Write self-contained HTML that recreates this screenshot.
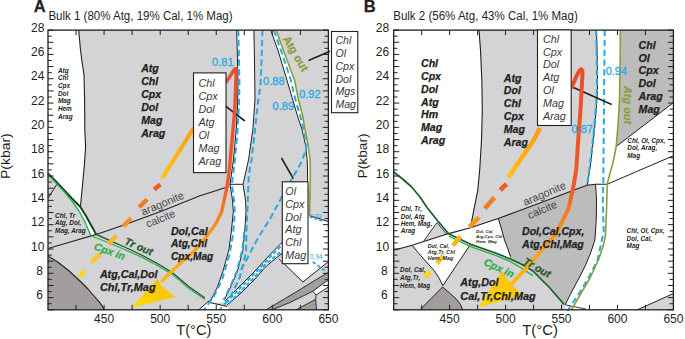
<!DOCTYPE html>
<html><head><meta charset="utf-8"><style>
html,body{margin:0;padding:0;background:#fff;overflow:hidden;width:685px;height:339px;}
svg{display:block;font-family:"Liberation Sans",sans-serif;}
</style></head><body>
<svg width="685" height="339" viewBox="0 0 685 339">
<polygon points="48.0,30.1 328.4,30.1 328.4,309.8 48.0,309.8" fill="#d4d3d5" stroke="none" stroke-width="0" stroke-linejoin="round"/>
<polygon points="48.0,30.1 78.7,30.1 80.5,50.0 82.0,62.0 84.0,74.6 84.6,100.0 84.8,130.0 85.6,146.5 84.4,165.0 82.5,185.0 80.4,207.0 72.0,198.5 64.0,190.0 56.0,181.5 48.0,173.4" fill="#ffffff" stroke="none" stroke-width="0" stroke-linejoin="round"/>
<polygon points="48.0,173.4 56.0,181.5 64.0,190.0 72.0,198.5 80.4,207.0 86.0,216.0 91.0,225.0 96.2,234.4 90.9,235.6 88.0,229.0 84.5,221.0 79.0,211.0 72.0,201.0 64.0,191.5 56.0,183.0 48.0,174.6" fill="#ffffff" stroke="none" stroke-width="0" stroke-linejoin="round"/>
<polygon points="48.0,255.9 58.0,262.3 68.6,270.5 80.0,281.0 88.0,289.0 94.5,296.5 100.0,302.8 104.5,309.8 48.0,309.8" fill="#a19e9d" stroke="none" stroke-width="0" stroke-linejoin="round"/>
<polygon points="236.7,30.1 237.5,60.0 238.0,85.0 237.6,105.0 236.2,130.0 233.5,160.0 230.0,184.3 243.0,184.3 248.5,160.0 252.8,130.0 255.0,100.0 254.5,60.0 253.9,30.1" fill="#ffffff" stroke="none" stroke-width="0" stroke-linejoin="round"/>
<polygon points="230.0,184.3 232.5,200.0 233.3,212.0 231.5,230.0 229.0,249.4 223.0,271.1 217.0,288.0 210.9,300.2 207.3,302.2 210.0,302.6 226.6,302.6 224.2,300.2 230.2,288.0 237.5,271.1 243.0,249.4 244.8,230.0 246.0,212.0 245.5,200.0 243.0,184.3" fill="#ffffff" stroke="none" stroke-width="0" stroke-linejoin="round"/>
<polygon points="198.8,309.8 207.3,302.2 210.0,302.6 227.0,306.4 229.0,309.8" fill="#ffffff" stroke="none" stroke-width="0" stroke-linejoin="round"/>
<polygon points="225.1,301.2 240.0,286.0 255.0,271.0 265.0,260.0 273.0,251.5 282.4,242.1 282.4,253.0 273.0,260.5 265.0,267.4 255.0,279.0 240.0,294.0 227.0,304.9" fill="#ffffff" stroke="none" stroke-width="0" stroke-linejoin="round"/>
<polygon points="270.8,30.1 278.5,52.0 286.9,80.0 292.8,100.0 297.8,117.0 302.2,130.0 305.5,145.0 307.2,159.5 307.5,170.0 307.5,181.7 310.1,190.0 310.3,175.0 310.1,159.5 308.0,145.0 305.1,130.0 302.5,115.0 298.5,100.0 294.5,80.0 284.0,52.0 276.1,30.1" fill="#ffffff" stroke="none" stroke-width="0" stroke-linejoin="round"/>
<polygon points="308.0,215.7 328.4,221.6 328.4,262.5 325.8,263.7 302.9,282.0 279.0,258.8 282.4,258.8 282.4,250.0 308.0,250.0" fill="#ffffff" stroke="none" stroke-width="0" stroke-linejoin="round"/>
<polygon points="266.0,309.8 296.0,292.0 318.0,278.5 328.4,272.5 328.4,279.5 313.0,291.1 290.0,302.5 272.0,309.8" fill="#a19e9d" stroke="none" stroke-width="0" stroke-linejoin="round"/>
<polygon points="313.0,291.1 328.4,281.5 328.4,287.0 316.0,295.0" fill="#ffffff" stroke="none" stroke-width="0" stroke-linejoin="round"/>
<polygon points="296.0,309.8 315.7,299.4 316.5,309.8" fill="#a19e9d" stroke="none" stroke-width="0" stroke-linejoin="round"/>
<polyline points="78.7,30.1 80.5,50.0 82.0,62.0 84.0,74.6 84.6,100.0 84.8,130.0 85.6,146.5 84.4,165.0 82.5,185.0 80.4,207.0" fill="none" stroke="#231f20" stroke-width="1.1" stroke-linejoin="round" stroke-linecap="butt"/>
<polyline points="236.7,30.1 237.5,60.0 238.0,85.0 237.6,105.0 236.2,130.0 233.5,160.0 230.0,184.3" fill="none" stroke="#231f20" stroke-width="1.0" stroke-linejoin="round" stroke-linecap="butt"/>
<polyline points="253.9,30.1 254.5,60.0 255.0,100.0 252.8,130.0 248.5,160.0 243.0,184.3" fill="none" stroke="#231f20" stroke-width="1.0" stroke-linejoin="round" stroke-linecap="butt"/>
<polyline points="230.0,184.3 232.5,200.0 233.3,212.0 231.5,230.0 229.0,249.4 223.0,271.1 217.0,288.0 210.9,300.2 207.3,302.2" fill="none" stroke="#231f20" stroke-width="1.0" stroke-linejoin="round" stroke-linecap="butt"/>
<polyline points="243.0,184.3 245.5,200.0 246.0,212.0 244.8,230.0 243.0,249.4 237.5,271.1 230.2,288.0 224.2,300.2" fill="none" stroke="#231f20" stroke-width="1.0" stroke-linejoin="round" stroke-linecap="butt"/>
<polyline points="230.0,184.3 243.0,184.3" fill="none" stroke="#231f20" stroke-width="1.0" stroke-linejoin="round" stroke-linecap="butt"/>
<polyline points="207.3,302.2 198.8,309.8" fill="none" stroke="#231f20" stroke-width="1.0" stroke-linejoin="round" stroke-linecap="butt"/>
<polyline points="210.0,302.6 227.0,306.4" fill="none" stroke="#231f20" stroke-width="1.0" stroke-linejoin="round" stroke-linecap="butt"/>
<polyline points="225.1,301.2 240.0,286.0 255.0,271.0 265.0,260.0 273.0,251.5 282.4,242.1" fill="none" stroke="#231f20" stroke-width="1.0" stroke-linejoin="round" stroke-linecap="butt"/>
<polyline points="227.0,304.9 240.0,294.0 255.0,279.0 265.0,267.4 273.0,260.5 282.4,253.0" fill="none" stroke="#231f20" stroke-width="1.0" stroke-linejoin="round" stroke-linecap="butt"/>
<polyline points="270.8,30.1 278.5,52.0 286.9,80.0 292.8,100.0 297.8,117.0 302.2,130.0 305.5,145.0 307.2,159.5 307.5,170.0 307.5,181.7" fill="none" stroke="#231f20" stroke-width="1.0" stroke-linejoin="round" stroke-linecap="butt"/>
<polyline points="48.0,198.2 57.2,183.8" fill="none" stroke="#231f20" stroke-width="1.0" stroke-linejoin="round" stroke-linecap="butt"/>
<polyline points="48.0,248.5 72.0,241.5 96.2,234.4 124.0,225.0 162.0,211.0 200.0,195.7 229.0,186.6" fill="none" stroke="#231f20" stroke-width="1.1" stroke-linejoin="round" stroke-linecap="butt"/>
<polyline points="309.6,215.7 328.4,221.6" fill="none" stroke="#231f20" stroke-width="1.0" stroke-linejoin="round" stroke-linecap="butt"/>
<polyline points="279.0,258.8 302.9,282.0 325.8,263.7 328.4,262.0" fill="none" stroke="#231f20" stroke-width="1.0" stroke-linejoin="round" stroke-linecap="butt"/>
<polyline points="266.0,309.8 296.0,292.0 318.0,278.5 328.4,272.5" fill="none" stroke="#231f20" stroke-width="0.9" stroke-linejoin="round" stroke-linecap="butt"/>
<polyline points="272.0,309.8 290.0,302.5 313.0,291.1 328.4,279.5" fill="none" stroke="#231f20" stroke-width="0.9" stroke-linejoin="round" stroke-linecap="butt"/>
<polyline points="313.0,291.1 316.0,295.0 328.4,287.0" fill="none" stroke="#231f20" stroke-width="0.9" stroke-linejoin="round" stroke-linecap="butt"/>
<polyline points="296.0,309.8 315.7,299.4 316.5,309.8" fill="none" stroke="#231f20" stroke-width="0.9" stroke-linejoin="round" stroke-linecap="butt"/>
<polyline points="316.0,295.0 315.7,299.4" fill="none" stroke="#231f20" stroke-width="0.9" stroke-linejoin="round" stroke-linecap="butt"/>
<polyline points="48.0,255.9 58.0,262.3 68.6,270.5 80.0,281.0 88.0,289.0 94.5,296.5 100.0,302.8 104.5,309.8" fill="none" stroke="#231f20" stroke-width="1.1" stroke-linejoin="round" stroke-linecap="butt"/>
<polyline points="238.3,30.1 239.0,60.0 239.4,85.0 239.0,105.0 237.6,130.0 235.0,160.0 231.8,184.3 234.0,200.0 234.8,212.0 233.0,235.0 229.3,255.0 222.0,280.0 213.5,297.0 209.0,303.0 204.0,309.8" fill="none" stroke="#27aae1" stroke-width="2.0" stroke-linejoin="round" stroke-linecap="butt" stroke-dasharray="6.2,3.6"/>
<polyline points="244.2,232.0 242.4,249.4 236.9,271.1 229.6,288.0 223.6,300.0" fill="none" stroke="#27aae1" stroke-width="2.0" stroke-linejoin="round" stroke-linecap="butt" stroke-dasharray="6.2,3.6"/>
<polyline points="262.5,30.1 261.5,60.0 260.5,85.0 258.3,100.0 255.0,130.0 251.5,160.0 248.8,175.0 247.6,205.0 246.5,230.0 246.0,252.7 239.8,277.4 230.0,298.0 219.6,309.8" fill="none" stroke="#27aae1" stroke-width="2.0" stroke-linejoin="round" stroke-linecap="butt" stroke-dasharray="6.2,3.6"/>
<polyline points="273.8,30.1 281.5,52.0 290.5,79.0 295.6,100.0 300.0,115.0 303.6,130.0 306.0,145.0 306.0,150.0 301.0,163.0 291.5,179.6 281.5,197.6 270.0,218.9 258.0,238.0 247.6,257.8 241.0,270.0" fill="none" stroke="#27aae1" stroke-width="2.0" stroke-linejoin="round" stroke-linecap="butt" stroke-dasharray="6.2,3.6"/>
<polyline points="226.0,302.8 240.0,288.2 255.0,273.2 265.0,262.4 273.0,254.0 282.4,244.6" fill="none" stroke="#27aae1" stroke-width="2.0" stroke-linejoin="round" stroke-linecap="butt" stroke-dasharray="4,2.2"/>
<polyline points="229.0,303.2 240.0,291.8 255.0,276.8 265.0,265.0 273.0,258.0 282.4,250.5" fill="none" stroke="#27aae1" stroke-width="2.0" stroke-linejoin="round" stroke-linecap="butt" stroke-dasharray="4,2.2"/>
<polyline points="312.8,262.0 324.6,270.4" fill="none" stroke="#27aae1" stroke-width="1.8" stroke-linejoin="round" stroke-linecap="butt" stroke-dasharray="3.5,2"/>
<polyline points="309.6,217.0 323.0,221.0" fill="none" stroke="#27aae1" stroke-width="1.6" stroke-linejoin="round" stroke-linecap="butt" stroke-dasharray="3,2"/>
<polyline points="48.0,173.4 56.0,181.5 64.0,190.0 72.0,198.5 80.4,207.0 86.0,216.0 91.0,225.0 96.2,234.4" fill="none" stroke="#143a1e" stroke-width="1.9" stroke-linejoin="round" stroke-linecap="butt"/>
<polyline points="96.2,234.4 110.0,240.6 125.0,247.3 140.0,254.2 156.0,262.8 172.5,272.8 188.7,286.5 205.0,298.0" fill="none" stroke="#1d4d26" stroke-width="1.2" stroke-linejoin="round" stroke-linecap="butt"/>
<polyline points="48.0,174.6 56.0,183.0 64.0,191.5 72.0,201.0 79.0,211.0 84.5,221.0 88.0,229.0 90.9,235.6" fill="none" stroke="#2bb04a" stroke-width="1.4" stroke-linejoin="round" stroke-linecap="butt"/>
<polyline points="90.9,235.8 110.0,243.2 125.0,249.8 140.0,256.4 156.0,264.8 172.5,274.6 188.7,288.2 205.0,299.6" fill="none" stroke="#2bb04a" stroke-width="1.2" stroke-linejoin="round" stroke-linecap="butt"/>
<polyline points="276.1,30.1 284.0,52.0 294.5,80.0 298.5,100.0 302.5,115.0 305.1,130.0 308.0,145.0 310.1,159.5 310.3,175.0 310.1,190.0 309.6,215.7" fill="none" stroke="#8c9e3a" stroke-width="1.6" stroke-linejoin="round" stroke-linecap="butt"/>
<polyline points="225.3,105.8 244.9,121.0" fill="none" stroke="#231f20" stroke-width="1.6" stroke-linejoin="round" stroke-linecap="butt"/>
<polyline points="308.5,60.6 330.0,51.2" fill="none" stroke="#231f20" stroke-width="1.6" stroke-linejoin="round" stroke-linecap="butt"/>
<polyline points="281.5,158.0 293.3,178.7" fill="none" stroke="#231f20" stroke-width="1.6" stroke-linejoin="round" stroke-linecap="butt"/>
<polyline points="78.8,277.3 84.6,270.6" fill="none" stroke="#ffd51f" stroke-width="4.4" stroke-linejoin="round" stroke-linecap="butt"/>
<polyline points="91.5,262.8 100.0,254.0" fill="none" stroke="#fdc823" stroke-width="4.4" stroke-linejoin="round" stroke-linecap="butt"/>
<polyline points="108.2,244.2 116.3,235.9" fill="none" stroke="#fbb524" stroke-width="4.4" stroke-linejoin="round" stroke-linecap="butt"/>
<polyline points="123.2,226.3 131.0,218.2" fill="none" stroke="#f7941d" stroke-width="4.4" stroke-linejoin="round" stroke-linecap="butt"/>
<polyline points="139.2,207.2 147.2,199.2" fill="none" stroke="#f47b20" stroke-width="4.4" stroke-linejoin="round" stroke-linecap="butt"/>
<polyline points="154.2,189.5 160.3,184.3" fill="none" stroke="#ef5a28" stroke-width="4.4" stroke-linejoin="round" stroke-linecap="butt"/>
<defs><linearGradient id="sA" gradientUnits="userSpaceOnUse" x1="162" y1="178" x2="194" y2="128"><stop offset="0" stop-color="#fec30f"/><stop offset="1" stop-color="#f8a01c"/></linearGradient><linearGradient id="sB" gradientUnits="userSpaceOnUse" x1="508" y1="178" x2="540" y2="128"><stop offset="0" stop-color="#fec30f"/><stop offset="1" stop-color="#f89c1c"/></linearGradient></defs>
<polyline points="162.3,178.0 180.0,150.0 193.7,128.0" fill="none" stroke="url(#sA)" stroke-width="4.2" stroke-linejoin="round" stroke-linecap="butt"/>
<defs><linearGradient id="gA" x1="0" y1="0" x2="0" y2="1"><stop offset="0" stop-color="#e94e2b"/><stop offset="0.55" stop-color="#f05a28"/><stop offset="0.75" stop-color="#f7941d"/><stop offset="1" stop-color="#fdb913"/></linearGradient>
<linearGradient id="hA" x1="0" y1="1" x2="1" y2="0"><stop offset="0" stop-color="#ffdb00"/><stop offset="0.6" stop-color="#fec80c"/><stop offset="1" stop-color="#fbb22a"/></linearGradient>
<linearGradient id="gB" x1="0" y1="0" x2="0" y2="1"><stop offset="0" stop-color="#e94e2b"/><stop offset="0.55" stop-color="#f05a28"/><stop offset="0.75" stop-color="#f7941d"/><stop offset="1" stop-color="#fdb913"/></linearGradient></defs>
<path d="M226,82.5 L234.4,69.3 Q236.4,67.4 236.2,71.8 L234.8,110 L232.5,135 L229.3,170 L226.6,189 L221.6,212 L215.9,223.6 L206.3,237 L193,252.3 L177.7,265.6 L166,277 L161,282" fill="none" stroke="url(#gA)" stroke-width="3.4" stroke-linejoin="round" stroke-linecap="butt"/>
<polygon points="131.5,307.6 157.4,278.8 162.0,286.5 175.7,297.0" fill="url(#hA)" stroke="none" stroke-width="0" stroke-linejoin="round"/>
<rect x="193.5" y="72.9" width="32.5" height="99.69999999999999" fill="#ffffff" stroke="#231f20" stroke-width="1.1"/>
<text x="198.4" y="86.9" font-size="10.8" font-weight="normal" font-style="italic" fill="#3a3a3a" text-anchor="start">Chl</text>
<text x="198.4" y="99.85" font-size="10.8" font-weight="normal" font-style="italic" fill="#3a3a3a" text-anchor="start">Cpx</text>
<text x="198.4" y="112.8" font-size="10.8" font-weight="normal" font-style="italic" fill="#3a3a3a" text-anchor="start">Dol</text>
<text x="198.4" y="125.75" font-size="10.8" font-weight="normal" font-style="italic" fill="#3a3a3a" text-anchor="start">Atg</text>
<text x="198.4" y="138.7" font-size="10.8" font-weight="normal" font-style="italic" fill="#3a3a3a" text-anchor="start">Ol</text>
<text x="198.4" y="151.65" font-size="10.8" font-weight="normal" font-style="italic" fill="#3a3a3a" text-anchor="start">Mag</text>
<text x="198.4" y="164.6" font-size="10.8" font-weight="normal" font-style="italic" fill="#3a3a3a" text-anchor="start">Arag</text>
<rect x="282.3" y="181.8" width="25.69999999999999" height="81.89999999999998" fill="#ffffff" stroke="#231f20" stroke-width="1.1"/>
<text x="285.3" y="195.0" font-size="10.8" font-weight="normal" font-style="italic" fill="#3a3a3a" text-anchor="start">Ol</text>
<text x="285.3" y="207.75" font-size="10.8" font-weight="normal" font-style="italic" fill="#3a3a3a" text-anchor="start">Cpx</text>
<text x="285.3" y="220.5" font-size="10.8" font-weight="normal" font-style="italic" fill="#3a3a3a" text-anchor="start">Dol</text>
<text x="285.3" y="233.25" font-size="10.8" font-weight="normal" font-style="italic" fill="#3a3a3a" text-anchor="start">Atg</text>
<text x="285.3" y="246.0" font-size="10.8" font-weight="normal" font-style="italic" fill="#3a3a3a" text-anchor="start">Chl</text>
<text x="285.3" y="258.75" font-size="10.8" font-weight="normal" font-style="italic" fill="#3a3a3a" text-anchor="start">Mag</text>
<rect x="331.5" y="31.5" width="26.30000000000001" height="81.2" fill="#ffffff" stroke="#231f20" stroke-width="1.1"/>
<text x="335.4" y="44.1" font-size="10.6" font-weight="normal" font-style="italic" fill="#3a3a3a" text-anchor="start">Chl</text>
<text x="335.4" y="56.9" font-size="10.6" font-weight="normal" font-style="italic" fill="#3a3a3a" text-anchor="start">Ol</text>
<text x="335.4" y="69.7" font-size="10.6" font-weight="normal" font-style="italic" fill="#3a3a3a" text-anchor="start">Cpx</text>
<text x="335.4" y="82.5" font-size="10.6" font-weight="normal" font-style="italic" fill="#3a3a3a" text-anchor="start">Dol</text>
<text x="335.4" y="95.3" font-size="10.6" font-weight="normal" font-style="italic" fill="#3a3a3a" text-anchor="start">Mgs</text>
<text x="335.4" y="108.1" font-size="10.6" font-weight="normal" font-style="italic" fill="#3a3a3a" text-anchor="start">Mag</text>
<text x="141.2" y="72.3" font-size="10.6" font-weight="bold" font-style="italic" fill="#231f20" text-anchor="start" stroke="#231f20" stroke-width="0.25">Atg</text>
<text x="141.2" y="85.15" font-size="10.6" font-weight="bold" font-style="italic" fill="#231f20" text-anchor="start" stroke="#231f20" stroke-width="0.25">Chl</text>
<text x="141.2" y="98.0" font-size="10.6" font-weight="bold" font-style="italic" fill="#231f20" text-anchor="start" stroke="#231f20" stroke-width="0.25">Cpx</text>
<text x="141.2" y="110.85" font-size="10.6" font-weight="bold" font-style="italic" fill="#231f20" text-anchor="start" stroke="#231f20" stroke-width="0.25">Dol</text>
<text x="141.2" y="123.7" font-size="10.6" font-weight="bold" font-style="italic" fill="#231f20" text-anchor="start" stroke="#231f20" stroke-width="0.25">Mag</text>
<text x="141.2" y="136.55" font-size="10.6" font-weight="bold" font-style="italic" fill="#231f20" text-anchor="start" stroke="#231f20" stroke-width="0.25">Arag</text>
<text x="57.9" y="72.8" font-size="6.45" font-weight="bold" font-style="italic" fill="#231f20" text-anchor="start">Atg</text>
<text x="57.9" y="80.47" font-size="6.45" font-weight="bold" font-style="italic" fill="#231f20" text-anchor="start">Chl</text>
<text x="57.9" y="88.14" font-size="6.45" font-weight="bold" font-style="italic" fill="#231f20" text-anchor="start">Cpx</text>
<text x="57.9" y="95.81" font-size="6.45" font-weight="bold" font-style="italic" fill="#231f20" text-anchor="start">Dol</text>
<text x="57.9" y="103.48" font-size="6.45" font-weight="bold" font-style="italic" fill="#231f20" text-anchor="start">Mag</text>
<text x="57.9" y="111.15" font-size="6.45" font-weight="bold" font-style="italic" fill="#231f20" text-anchor="start">Hem</text>
<text x="57.9" y="118.82" font-size="6.45" font-weight="bold" font-style="italic" fill="#231f20" text-anchor="start">Arag</text>
<text x="55.1" y="217.7" font-size="6.4" font-weight="bold" font-style="italic" fill="#231f20" text-anchor="start">Chl, Tr</text>
<text x="55.1" y="225.25" font-size="6.4" font-weight="bold" font-style="italic" fill="#231f20" text-anchor="start">Atg, Dol,</text>
<text x="55.1" y="232.8" font-size="6.4" font-weight="bold" font-style="italic" fill="#231f20" text-anchor="start">Mag, Arag</text>
<text x="99.9" y="277.5" font-size="10.2" font-weight="bold" font-style="italic" fill="#231f20" text-anchor="start" textLength="57.7" lengthAdjust="spacingAndGlyphs" stroke="#231f20" stroke-width="0.25">Atg,Cal,Dol</text>
<text x="99.9" y="290.5" font-size="10.2" font-weight="bold" font-style="italic" fill="#231f20" text-anchor="start" textLength="55.7" lengthAdjust="spacingAndGlyphs" stroke="#231f20" stroke-width="0.25">Chl,Tr,Mag</text>
<text x="170.9" y="234.6" font-size="10.2" font-weight="bold" font-style="italic" fill="#231f20" text-anchor="start" textLength="36.8" lengthAdjust="spacingAndGlyphs" stroke="#231f20" stroke-width="0.25">Dol,Cal</text>
<text x="170.9" y="247.1" font-size="10.2" font-weight="bold" font-style="italic" fill="#231f20" text-anchor="start" stroke="#231f20" stroke-width="0.25">Atg,Chl</text>
<text x="170.9" y="259.6" font-size="10.2" font-weight="bold" font-style="italic" fill="#231f20" text-anchor="start" stroke="#231f20" stroke-width="0.25">Cpx,Mag</text>
<text x="212.1" y="66" font-size="11" font-weight="normal" font-style="normal" fill="#27aae1" text-anchor="start" stroke="#27aae1" stroke-width="0.3">0.81</text>
<text x="263.1" y="84.5" font-size="11" font-weight="normal" font-style="normal" fill="#27aae1" text-anchor="start" stroke="#27aae1" stroke-width="0.3">0.88</text>
<text x="272.6" y="110" font-size="11" font-weight="normal" font-style="normal" fill="#27aae1" text-anchor="start" stroke="#27aae1" stroke-width="0.3">0.89</text>
<text x="299.2" y="98" font-size="11" font-weight="normal" font-style="normal" fill="#27aae1" text-anchor="start" stroke="#27aae1" stroke-width="0.3">0.92</text>
<text x="310" y="217.8" font-size="6" font-weight="normal" font-style="normal" fill="#27aae1" text-anchor="start">0.93</text>
<text x="310" y="258.8" font-size="6.5" font-weight="normal" font-style="normal" fill="#27aae1" text-anchor="start">0.94</text>
<text x="282.4" y="38.7" font-size="11.2" font-weight="bold" font-style="normal" fill="#8c9e3a" text-anchor="start" transform="rotate(59.5 282.4 38.7)" stroke="#8c9e3a" stroke-width="0.25">Atg out</text>
<text x="143.0" y="215.8" font-size="11" font-weight="normal" font-style="normal" fill="#4a4a4c" text-anchor="start" textLength="45.5" lengthAdjust="spacingAndGlyphs" transform="rotate(-23 143.0 215.8)">aragonite</text>
<text x="147.8" y="227.8" font-size="11" font-weight="normal" font-style="normal" fill="#4a4a4c" text-anchor="start" textLength="30.6" lengthAdjust="spacingAndGlyphs" transform="rotate(-22 147.8 227.8)">calcite</text>
<text x="93.3" y="249.3" font-size="10.5" font-weight="bold" font-style="italic" fill="#2bb04a" text-anchor="start" transform="rotate(20 93.3 249.3)" stroke="#2bb04a" stroke-width="0.25">Cpx in</text>
<text x="123.8" y="243.9" font-size="10.5" font-weight="bold" font-style="italic" fill="#1c5a2a" text-anchor="start" transform="rotate(23.7 123.8 243.9)" stroke="#1c5a2a" stroke-width="0.25">Tr out</text>
<line x1="48.0" y1="309.80" x2="53.5" y2="309.80" stroke="#231f20" stroke-width="1"/>
<line x1="328.4" y1="309.80" x2="322.9" y2="309.80" stroke="#231f20" stroke-width="1"/>
<line x1="48.0" y1="303.72" x2="51.8" y2="303.72" stroke="#231f20" stroke-width="1"/>
<line x1="328.4" y1="303.72" x2="324.59999999999997" y2="303.72" stroke="#231f20" stroke-width="1"/>
<line x1="48.0" y1="297.64" x2="53.5" y2="297.64" stroke="#231f20" stroke-width="1"/>
<line x1="328.4" y1="297.64" x2="322.9" y2="297.64" stroke="#231f20" stroke-width="1"/>
<line x1="48.0" y1="291.56" x2="51.8" y2="291.56" stroke="#231f20" stroke-width="1"/>
<line x1="328.4" y1="291.56" x2="324.59999999999997" y2="291.56" stroke="#231f20" stroke-width="1"/>
<line x1="48.0" y1="285.48" x2="53.5" y2="285.48" stroke="#231f20" stroke-width="1"/>
<line x1="328.4" y1="285.48" x2="322.9" y2="285.48" stroke="#231f20" stroke-width="1"/>
<line x1="48.0" y1="279.40" x2="51.8" y2="279.40" stroke="#231f20" stroke-width="1"/>
<line x1="328.4" y1="279.40" x2="324.59999999999997" y2="279.40" stroke="#231f20" stroke-width="1"/>
<line x1="48.0" y1="273.32" x2="53.5" y2="273.32" stroke="#231f20" stroke-width="1"/>
<line x1="328.4" y1="273.32" x2="322.9" y2="273.32" stroke="#231f20" stroke-width="1"/>
<line x1="48.0" y1="267.24" x2="51.8" y2="267.24" stroke="#231f20" stroke-width="1"/>
<line x1="328.4" y1="267.24" x2="324.59999999999997" y2="267.24" stroke="#231f20" stroke-width="1"/>
<line x1="48.0" y1="261.16" x2="53.5" y2="261.16" stroke="#231f20" stroke-width="1"/>
<line x1="328.4" y1="261.16" x2="322.9" y2="261.16" stroke="#231f20" stroke-width="1"/>
<line x1="48.0" y1="255.08" x2="51.8" y2="255.08" stroke="#231f20" stroke-width="1"/>
<line x1="328.4" y1="255.08" x2="324.59999999999997" y2="255.08" stroke="#231f20" stroke-width="1"/>
<line x1="48.0" y1="249.00" x2="53.5" y2="249.00" stroke="#231f20" stroke-width="1"/>
<line x1="328.4" y1="249.00" x2="322.9" y2="249.00" stroke="#231f20" stroke-width="1"/>
<line x1="48.0" y1="242.92" x2="51.8" y2="242.92" stroke="#231f20" stroke-width="1"/>
<line x1="328.4" y1="242.92" x2="324.59999999999997" y2="242.92" stroke="#231f20" stroke-width="1"/>
<line x1="48.0" y1="236.83" x2="53.5" y2="236.83" stroke="#231f20" stroke-width="1"/>
<line x1="328.4" y1="236.83" x2="322.9" y2="236.83" stroke="#231f20" stroke-width="1"/>
<line x1="48.0" y1="230.75" x2="51.8" y2="230.75" stroke="#231f20" stroke-width="1"/>
<line x1="328.4" y1="230.75" x2="324.59999999999997" y2="230.75" stroke="#231f20" stroke-width="1"/>
<line x1="48.0" y1="224.67" x2="53.5" y2="224.67" stroke="#231f20" stroke-width="1"/>
<line x1="328.4" y1="224.67" x2="322.9" y2="224.67" stroke="#231f20" stroke-width="1"/>
<line x1="48.0" y1="218.59" x2="51.8" y2="218.59" stroke="#231f20" stroke-width="1"/>
<line x1="328.4" y1="218.59" x2="324.59999999999997" y2="218.59" stroke="#231f20" stroke-width="1"/>
<line x1="48.0" y1="212.51" x2="53.5" y2="212.51" stroke="#231f20" stroke-width="1"/>
<line x1="328.4" y1="212.51" x2="322.9" y2="212.51" stroke="#231f20" stroke-width="1"/>
<line x1="48.0" y1="206.43" x2="51.8" y2="206.43" stroke="#231f20" stroke-width="1"/>
<line x1="328.4" y1="206.43" x2="324.59999999999997" y2="206.43" stroke="#231f20" stroke-width="1"/>
<line x1="48.0" y1="200.35" x2="53.5" y2="200.35" stroke="#231f20" stroke-width="1"/>
<line x1="328.4" y1="200.35" x2="322.9" y2="200.35" stroke="#231f20" stroke-width="1"/>
<line x1="48.0" y1="194.27" x2="51.8" y2="194.27" stroke="#231f20" stroke-width="1"/>
<line x1="328.4" y1="194.27" x2="324.59999999999997" y2="194.27" stroke="#231f20" stroke-width="1"/>
<line x1="48.0" y1="188.19" x2="53.5" y2="188.19" stroke="#231f20" stroke-width="1"/>
<line x1="328.4" y1="188.19" x2="322.9" y2="188.19" stroke="#231f20" stroke-width="1"/>
<line x1="48.0" y1="182.11" x2="51.8" y2="182.11" stroke="#231f20" stroke-width="1"/>
<line x1="328.4" y1="182.11" x2="324.59999999999997" y2="182.11" stroke="#231f20" stroke-width="1"/>
<line x1="48.0" y1="176.03" x2="53.5" y2="176.03" stroke="#231f20" stroke-width="1"/>
<line x1="328.4" y1="176.03" x2="322.9" y2="176.03" stroke="#231f20" stroke-width="1"/>
<line x1="48.0" y1="169.95" x2="51.8" y2="169.95" stroke="#231f20" stroke-width="1"/>
<line x1="328.4" y1="169.95" x2="324.59999999999997" y2="169.95" stroke="#231f20" stroke-width="1"/>
<line x1="48.0" y1="163.87" x2="53.5" y2="163.87" stroke="#231f20" stroke-width="1"/>
<line x1="328.4" y1="163.87" x2="322.9" y2="163.87" stroke="#231f20" stroke-width="1"/>
<line x1="48.0" y1="157.79" x2="51.8" y2="157.79" stroke="#231f20" stroke-width="1"/>
<line x1="328.4" y1="157.79" x2="324.59999999999997" y2="157.79" stroke="#231f20" stroke-width="1"/>
<line x1="48.0" y1="151.71" x2="53.5" y2="151.71" stroke="#231f20" stroke-width="1"/>
<line x1="328.4" y1="151.71" x2="322.9" y2="151.71" stroke="#231f20" stroke-width="1"/>
<line x1="48.0" y1="145.63" x2="51.8" y2="145.63" stroke="#231f20" stroke-width="1"/>
<line x1="328.4" y1="145.63" x2="324.59999999999997" y2="145.63" stroke="#231f20" stroke-width="1"/>
<line x1="48.0" y1="139.55" x2="53.5" y2="139.55" stroke="#231f20" stroke-width="1"/>
<line x1="328.4" y1="139.55" x2="322.9" y2="139.55" stroke="#231f20" stroke-width="1"/>
<line x1="48.0" y1="133.47" x2="51.8" y2="133.47" stroke="#231f20" stroke-width="1"/>
<line x1="328.4" y1="133.47" x2="324.59999999999997" y2="133.47" stroke="#231f20" stroke-width="1"/>
<line x1="48.0" y1="127.39" x2="53.5" y2="127.39" stroke="#231f20" stroke-width="1"/>
<line x1="328.4" y1="127.39" x2="322.9" y2="127.39" stroke="#231f20" stroke-width="1"/>
<line x1="48.0" y1="121.31" x2="51.8" y2="121.31" stroke="#231f20" stroke-width="1"/>
<line x1="328.4" y1="121.31" x2="324.59999999999997" y2="121.31" stroke="#231f20" stroke-width="1"/>
<line x1="48.0" y1="115.23" x2="53.5" y2="115.23" stroke="#231f20" stroke-width="1"/>
<line x1="328.4" y1="115.23" x2="322.9" y2="115.23" stroke="#231f20" stroke-width="1"/>
<line x1="48.0" y1="109.15" x2="51.8" y2="109.15" stroke="#231f20" stroke-width="1"/>
<line x1="328.4" y1="109.15" x2="324.59999999999997" y2="109.15" stroke="#231f20" stroke-width="1"/>
<line x1="48.0" y1="103.07" x2="53.5" y2="103.07" stroke="#231f20" stroke-width="1"/>
<line x1="328.4" y1="103.07" x2="322.9" y2="103.07" stroke="#231f20" stroke-width="1"/>
<line x1="48.0" y1="96.98" x2="51.8" y2="96.98" stroke="#231f20" stroke-width="1"/>
<line x1="328.4" y1="96.98" x2="324.59999999999997" y2="96.98" stroke="#231f20" stroke-width="1"/>
<line x1="48.0" y1="90.90" x2="53.5" y2="90.90" stroke="#231f20" stroke-width="1"/>
<line x1="328.4" y1="90.90" x2="322.9" y2="90.90" stroke="#231f20" stroke-width="1"/>
<line x1="48.0" y1="84.82" x2="51.8" y2="84.82" stroke="#231f20" stroke-width="1"/>
<line x1="328.4" y1="84.82" x2="324.59999999999997" y2="84.82" stroke="#231f20" stroke-width="1"/>
<line x1="48.0" y1="78.74" x2="53.5" y2="78.74" stroke="#231f20" stroke-width="1"/>
<line x1="328.4" y1="78.74" x2="322.9" y2="78.74" stroke="#231f20" stroke-width="1"/>
<line x1="48.0" y1="72.66" x2="51.8" y2="72.66" stroke="#231f20" stroke-width="1"/>
<line x1="328.4" y1="72.66" x2="324.59999999999997" y2="72.66" stroke="#231f20" stroke-width="1"/>
<line x1="48.0" y1="66.58" x2="53.5" y2="66.58" stroke="#231f20" stroke-width="1"/>
<line x1="328.4" y1="66.58" x2="322.9" y2="66.58" stroke="#231f20" stroke-width="1"/>
<line x1="48.0" y1="60.50" x2="51.8" y2="60.50" stroke="#231f20" stroke-width="1"/>
<line x1="328.4" y1="60.50" x2="324.59999999999997" y2="60.50" stroke="#231f20" stroke-width="1"/>
<line x1="48.0" y1="54.42" x2="53.5" y2="54.42" stroke="#231f20" stroke-width="1"/>
<line x1="328.4" y1="54.42" x2="322.9" y2="54.42" stroke="#231f20" stroke-width="1"/>
<line x1="48.0" y1="48.34" x2="51.8" y2="48.34" stroke="#231f20" stroke-width="1"/>
<line x1="328.4" y1="48.34" x2="324.59999999999997" y2="48.34" stroke="#231f20" stroke-width="1"/>
<line x1="48.0" y1="42.26" x2="53.5" y2="42.26" stroke="#231f20" stroke-width="1"/>
<line x1="328.4" y1="42.26" x2="322.9" y2="42.26" stroke="#231f20" stroke-width="1"/>
<line x1="48.0" y1="36.18" x2="51.8" y2="36.18" stroke="#231f20" stroke-width="1"/>
<line x1="328.4" y1="36.18" x2="324.59999999999997" y2="36.18" stroke="#231f20" stroke-width="1"/>
<line x1="48.0" y1="30.10" x2="53.5" y2="30.10" stroke="#231f20" stroke-width="1"/>
<line x1="328.4" y1="30.10" x2="322.9" y2="30.10" stroke="#231f20" stroke-width="1"/>
<line x1="76.04" y1="309.8" x2="76.04" y2="304.8" stroke="#231f20" stroke-width="1"/>
<line x1="76.04" y1="30.1" x2="76.04" y2="35.1" stroke="#231f20" stroke-width="1"/>
<line x1="104.08" y1="309.8" x2="104.08" y2="304.8" stroke="#231f20" stroke-width="1"/>
<line x1="104.08" y1="30.1" x2="104.08" y2="35.1" stroke="#231f20" stroke-width="1"/>
<line x1="132.12" y1="309.8" x2="132.12" y2="304.8" stroke="#231f20" stroke-width="1"/>
<line x1="132.12" y1="30.1" x2="132.12" y2="35.1" stroke="#231f20" stroke-width="1"/>
<line x1="160.16" y1="309.8" x2="160.16" y2="304.8" stroke="#231f20" stroke-width="1"/>
<line x1="160.16" y1="30.1" x2="160.16" y2="35.1" stroke="#231f20" stroke-width="1"/>
<line x1="188.20" y1="309.8" x2="188.20" y2="304.8" stroke="#231f20" stroke-width="1"/>
<line x1="188.20" y1="30.1" x2="188.20" y2="35.1" stroke="#231f20" stroke-width="1"/>
<line x1="216.24" y1="309.8" x2="216.24" y2="304.8" stroke="#231f20" stroke-width="1"/>
<line x1="216.24" y1="30.1" x2="216.24" y2="35.1" stroke="#231f20" stroke-width="1"/>
<line x1="244.28" y1="309.8" x2="244.28" y2="304.8" stroke="#231f20" stroke-width="1"/>
<line x1="244.28" y1="30.1" x2="244.28" y2="35.1" stroke="#231f20" stroke-width="1"/>
<line x1="272.32" y1="309.8" x2="272.32" y2="304.8" stroke="#231f20" stroke-width="1"/>
<line x1="272.32" y1="30.1" x2="272.32" y2="35.1" stroke="#231f20" stroke-width="1"/>
<line x1="300.36" y1="309.8" x2="300.36" y2="304.8" stroke="#231f20" stroke-width="1"/>
<line x1="300.36" y1="30.1" x2="300.36" y2="35.1" stroke="#231f20" stroke-width="1"/>
<rect x="48.0" y="30.1" width="280.4" height="279.7" fill="none" stroke="#231f20" stroke-width="1.3"/>
<text x="42.9" y="299.24" font-size="12" font-weight="normal" font-style="normal" fill="#231f20" text-anchor="end">6</text>
<text x="42.9" y="274.92" font-size="12" font-weight="normal" font-style="normal" fill="#231f20" text-anchor="end">8</text>
<text x="44.4" y="250.6" font-size="12" font-weight="normal" font-style="normal" fill="#231f20" text-anchor="end">10</text>
<text x="44.4" y="226.27" font-size="12" font-weight="normal" font-style="normal" fill="#231f20" text-anchor="end">12</text>
<text x="44.4" y="201.95" font-size="12" font-weight="normal" font-style="normal" fill="#231f20" text-anchor="end">14</text>
<text x="44.4" y="177.63" font-size="12" font-weight="normal" font-style="normal" fill="#231f20" text-anchor="end">16</text>
<text x="44.4" y="153.31" font-size="12" font-weight="normal" font-style="normal" fill="#231f20" text-anchor="end">18</text>
<text x="44.4" y="128.99" font-size="12" font-weight="normal" font-style="normal" fill="#231f20" text-anchor="end">20</text>
<text x="44.4" y="104.67" font-size="12" font-weight="normal" font-style="normal" fill="#231f20" text-anchor="end">22</text>
<text x="44.4" y="80.34" font-size="12" font-weight="normal" font-style="normal" fill="#231f20" text-anchor="end">24</text>
<text x="44.4" y="56.02" font-size="12" font-weight="normal" font-style="normal" fill="#231f20" text-anchor="end">26</text>
<text x="44.4" y="31.7" font-size="12" font-weight="normal" font-style="normal" fill="#231f20" text-anchor="end">28</text>
<text x="104.08" y="323.0" font-size="12" font-weight="normal" font-style="normal" fill="#231f20" text-anchor="middle">450</text>
<text x="160.16" y="323.0" font-size="12" font-weight="normal" font-style="normal" fill="#231f20" text-anchor="middle">500</text>
<text x="216.24" y="323.0" font-size="12" font-weight="normal" font-style="normal" fill="#231f20" text-anchor="middle">550</text>
<text x="272.32" y="323.0" font-size="12" font-weight="normal" font-style="normal" fill="#231f20" text-anchor="middle">600</text>
<text x="328.4" y="323.0" font-size="12" font-weight="normal" font-style="normal" fill="#231f20" text-anchor="middle">650</text>
<text x="33.8" y="12.0" font-size="16.5" font-weight="bold" font-style="normal" fill="#231f20" text-anchor="start" stroke="#231f20" stroke-width="0.25">A</text>
<text x="48.4" y="20.2" font-size="12.5" font-weight="normal" font-style="normal" fill="#231f20" text-anchor="start" textLength="184.2" lengthAdjust="spacingAndGlyphs">Bulk 1 (80% Atg, 19% Cal, 1% Mag)</text>
<text x="176.2" y="335.4" font-size="14.5" font-weight="normal" font-style="normal" fill="#231f20" text-anchor="start" textLength="35.2" lengthAdjust="spacingAndGlyphs">T(°C)</text>
<text x="9.6" y="179" font-size="12.5" font-weight="normal" font-style="normal" fill="#231f20" text-anchor="start" textLength="45.7" lengthAdjust="spacingAndGlyphs" transform="rotate(-90 9.6 179)">P(kbar)</text>
<polygon points="393.7,30.1 673.4,30.1 673.4,309.8 393.7,309.8" fill="#ffffff" stroke="none" stroke-width="0" stroke-linejoin="round"/>
<polygon points="479.0,30.1 480.5,50.0 481.8,80.0 482.3,110.0 481.5,140.0 479.7,170.0 477.7,190.6 473.6,211.2 470.5,227.7 498.3,218.5 515.0,212.3 540.0,203.0 565.0,193.4 586.9,185.3 587.4,185.0 587.4,185.0 591.1,160.0 594.5,130.0 596.9,100.0 597.5,90.0 597.3,60.0 596.5,30.1" fill="#d4d3d5" stroke="none" stroke-width="0" stroke-linejoin="round"/>
<polygon points="393.7,250.3 412.2,245.3 418.0,252.5 423.8,259.1 433.4,269.7 438.5,277.0 442.9,285.6 449.6,293.0 456.5,299.3 460.5,304.5 462.6,309.8 393.7,309.8" fill="#d4d3d5" stroke="none" stroke-width="0" stroke-linejoin="round"/>
<polygon points="470.6,244.2 496.3,253.2 510.0,258.8 522.0,264.5 533.0,271.0 542.4,280.5 549.0,287.0 555.3,294.2 564.2,304.5 566.0,309.8 462.6,309.8 460.5,304.5 456.5,299.3 449.6,293.0 442.9,285.6 453.3,270.0 462.7,256.0" fill="#d4d3d5" stroke="none" stroke-width="0" stroke-linejoin="round"/>
<polygon points="420.0,309.8 442.6,287.0 449.6,293.0 456.5,299.3 460.5,304.5 462.6,309.8" fill="#a19e9d" stroke="none" stroke-width="0" stroke-linejoin="round"/>
<polygon points="423.9,240.9 437.0,222.5 446.9,234.5" fill="#d4d3d5" stroke="none" stroke-width="0" stroke-linejoin="round"/>
<polygon points="498.3,218.5 515.0,212.3 540.0,203.0 565.0,193.4 586.9,185.3 595.5,184.3 596.6,200.0 596.2,221.3 594.9,240.0 590.7,252.7 585.4,265.5 579.0,278.2 571.5,292.0 565.2,304.8 564.2,304.5 555.3,294.2 549.0,287.0 542.4,280.5 533.0,271.0 522.0,264.5 510.7,259.2 507.5,248.0 504.5,240.0 501.5,229.0 498.3,218.5" fill="#bdbcbd" stroke="none" stroke-width="0" stroke-linejoin="round"/>
<polygon points="620.3,30.1 673.4,30.1 673.4,102.7 616.2,146.5 618.0,125.0 619.5,100.0 620.2,60.0" fill="#bdbcbd" stroke="none" stroke-width="0" stroke-linejoin="round"/>
<polygon points="637.4,309.8 673.4,293.5 673.4,309.8" fill="#d4d3d5" stroke="none" stroke-width="0" stroke-linejoin="round"/>
<polyline points="479.0,30.1 480.5,50.0 481.8,80.0 482.3,110.0 481.5,140.0 479.7,170.0 477.7,190.6 473.6,211.2 470.5,227.7" fill="none" stroke="#231f20" stroke-width="1.1" stroke-linejoin="round" stroke-linecap="butt"/>
<polyline points="596.5,30.1 597.3,60.0 597.5,90.0 596.9,100.0 594.5,130.0 591.1,160.0 587.4,185.0" fill="none" stroke="#231f20" stroke-width="1.0" stroke-linejoin="round" stroke-linecap="butt"/>
<polyline points="393.7,250.3 412.1,245.2 430.0,239.5 448.7,233.6 470.5,227.7 498.3,218.5 515.0,212.3 540.0,203.0 565.0,193.4 586.9,185.3 595.5,184.3 607.3,184.2" fill="none" stroke="#231f20" stroke-width="1.1" stroke-linejoin="round" stroke-linecap="butt"/>
<polyline points="607.3,184.2 673.4,155.7" fill="none" stroke="#231f20" stroke-width="1.0" stroke-linejoin="round" stroke-linecap="butt"/>
<polyline points="616.2,146.5 673.4,102.7" fill="none" stroke="#231f20" stroke-width="1.0" stroke-linejoin="round" stroke-linecap="butt"/>
<polyline points="595.5,184.3 596.6,200.0 596.2,221.3 594.9,240.0 590.7,252.7 585.4,265.5 579.0,278.2 571.5,292.0 565.2,304.8" fill="none" stroke="#231f20" stroke-width="1.0" stroke-linejoin="round" stroke-linecap="butt"/>
<polyline points="565.2,304.8 586.4,309.2" fill="none" stroke="#231f20" stroke-width="0.9" stroke-linejoin="round" stroke-linecap="butt"/>
<polyline points="637.4,309.8 673.4,293.5" fill="none" stroke="#231f20" stroke-width="1.0" stroke-linejoin="round" stroke-linecap="butt"/>
<polyline points="412.2,245.3 418.0,252.5 423.8,259.1 433.4,269.7 438.5,277.0 442.9,285.6" fill="none" stroke="#231f20" stroke-width="1.0" stroke-linejoin="round" stroke-linecap="butt"/>
<polyline points="442.9,285.6 453.3,270.0 462.7,256.0 470.6,244.2" fill="none" stroke="#231f20" stroke-width="1.0" stroke-linejoin="round" stroke-linecap="butt"/>
<polyline points="498.3,218.5 501.5,229.0 504.5,240.0 507.5,248.0 510.7,256.9" fill="none" stroke="#231f20" stroke-width="1.0" stroke-linejoin="round" stroke-linecap="butt"/>
<polyline points="420.0,309.8 442.6,287.0 449.6,293.0 456.5,299.3 460.5,304.5 462.6,309.8" fill="none" stroke="#231f20" stroke-width="1.0" stroke-linejoin="round" stroke-linecap="butt"/>
<polyline points="423.9,240.9 437.0,222.5 446.9,234.5" fill="none" stroke="#231f20" stroke-width="0.9" stroke-linejoin="round" stroke-linecap="butt"/>
<polyline points="596.1,30.1 596.8,60.0 597.0,90.0 596.4,100.0 594.0,130.0 590.6,160.0 587.6,182.0" fill="none" stroke="#27aae1" stroke-width="2.0" stroke-linejoin="round" stroke-linecap="butt" stroke-dasharray="6.2,3.6"/>
<polyline points="604.8,30.1 604.4,60.0 604.0,100.0 603.6,150.0 603.3,184.0 602.8,200.0 603.7,231.9 597.5,260.0 590.0,275.0 580.0,292.0 567.3,311.0" fill="none" stroke="#27aae1" stroke-width="2.0" stroke-linejoin="round" stroke-linecap="butt" stroke-dasharray="6.2,3.6"/>
<polyline points="393.7,172.0 402.0,178.5 411.2,186.5 420.0,197.0 427.2,207.8 437.0,220.0 448.7,233.8 470.6,244.2 496.3,253.2 510.0,258.8 522.0,264.5 533.0,271.0 542.4,280.5 549.0,287.0 555.3,294.2 564.2,304.5" fill="none" stroke="#1c5a2a" stroke-width="1.7" stroke-linejoin="round" stroke-linecap="butt"/>
<polyline points="448.7,236.2 470.6,246.6 496.3,255.6 510.0,261.3 522.0,268.5 533.0,275.6" fill="none" stroke="#2bb04a" stroke-width="1.4" stroke-linejoin="round" stroke-linecap="butt"/>
<polyline points="620.3,30.1 620.2,60.0 619.5,100.0 618.0,125.0 616.2,146.5 614.6,155.0 612.4,165.0 609.5,175.0 607.3,183.6 606.5,210.0 605.5,235.5 603.4,245.3 598.4,260.0 590.0,278.0 580.0,295.0 571.5,309.8" fill="none" stroke="#8c9e3a" stroke-width="1.6" stroke-linejoin="round" stroke-linecap="butt"/>
<polyline points="571.2,86.6 611.7,104.4" fill="none" stroke="#231f20" stroke-width="1.6" stroke-linejoin="round" stroke-linecap="butt"/>
<polyline points="424.3,277.5 430.5,271.5" fill="none" stroke="#ffd51f" stroke-width="4.6" stroke-linejoin="round" stroke-linecap="butt"/>
<polyline points="437.0,263.5 443.0,255.5" fill="none" stroke="#fdc823" stroke-width="4.6" stroke-linejoin="round" stroke-linecap="butt"/>
<polyline points="452.8,245.6 460.6,236.2" fill="none" stroke="#fbb524" stroke-width="4.6" stroke-linejoin="round" stroke-linecap="butt"/>
<polyline points="469.2,226.8 479.0,217.3" fill="none" stroke="#f7941d" stroke-width="4.6" stroke-linejoin="round" stroke-linecap="butt"/>
<polyline points="484.8,208.5 494.4,197.6" fill="none" stroke="#f47b20" stroke-width="4.6" stroke-linejoin="round" stroke-linecap="butt"/>
<polyline points="500.3,190.2 506.6,184.0" fill="none" stroke="#ef5a28" stroke-width="4.6" stroke-linejoin="round" stroke-linecap="butt"/>
<polyline points="508.5,177.5 533.7,140.0 540.0,128.0" fill="none" stroke="url(#sB)" stroke-width="4.6" stroke-linejoin="round" stroke-linecap="butt"/>
<path d="M571.2,88.5 C574.5,81 577.5,72 580.4,69.6 C582.4,68.2 582.7,71.5 582.4,76 L580.5,110 L578.6,135 L577.2,155 L576.2,170 L573.5,186 L568.6,208.6 L562.1,221.6 L555.1,235 L541,250.9 L525,269.5 L510.5,285" fill="none" stroke="url(#gB)" stroke-width="4.0" stroke-linejoin="round"/>
<polygon points="478.4,307.2 502.0,271.0 511.0,284.0 523.0,295.0" fill="url(#hA)" stroke="none" stroke-width="0" stroke-linejoin="round"/>
<text x="421.0" y="67.0" font-size="10.6" font-weight="bold" font-style="italic" fill="#231f20" text-anchor="start" stroke="#231f20" stroke-width="0.25">Chl</text>
<text x="421.0" y="79.85" font-size="10.6" font-weight="bold" font-style="italic" fill="#231f20" text-anchor="start" stroke="#231f20" stroke-width="0.25">Cpx</text>
<text x="421.0" y="92.7" font-size="10.6" font-weight="bold" font-style="italic" fill="#231f20" text-anchor="start" stroke="#231f20" stroke-width="0.25">Dol</text>
<text x="421.0" y="105.55" font-size="10.6" font-weight="bold" font-style="italic" fill="#231f20" text-anchor="start" stroke="#231f20" stroke-width="0.25">Atg</text>
<text x="421.0" y="118.4" font-size="10.6" font-weight="bold" font-style="italic" fill="#231f20" text-anchor="start" stroke="#231f20" stroke-width="0.25">Hm</text>
<text x="421.0" y="131.25" font-size="10.6" font-weight="bold" font-style="italic" fill="#231f20" text-anchor="start" stroke="#231f20" stroke-width="0.25">Mag</text>
<text x="421.0" y="144.1" font-size="10.6" font-weight="bold" font-style="italic" fill="#231f20" text-anchor="start" stroke="#231f20" stroke-width="0.25">Arag</text>
<text x="503.8" y="81.6" font-size="10.6" font-weight="bold" font-style="italic" fill="#231f20" text-anchor="start" stroke="#231f20" stroke-width="0.25">Atg</text>
<text x="503.8" y="94.45" font-size="10.6" font-weight="bold" font-style="italic" fill="#231f20" text-anchor="start" stroke="#231f20" stroke-width="0.25">Dol</text>
<text x="503.8" y="107.3" font-size="10.6" font-weight="bold" font-style="italic" fill="#231f20" text-anchor="start" stroke="#231f20" stroke-width="0.25">Chl</text>
<text x="503.8" y="120.15" font-size="10.6" font-weight="bold" font-style="italic" fill="#231f20" text-anchor="start" stroke="#231f20" stroke-width="0.25">Cpx</text>
<text x="503.8" y="133.0" font-size="10.6" font-weight="bold" font-style="italic" fill="#231f20" text-anchor="start" stroke="#231f20" stroke-width="0.25">Mag</text>
<text x="503.8" y="145.85" font-size="10.6" font-weight="bold" font-style="italic" fill="#231f20" text-anchor="start" stroke="#231f20" stroke-width="0.25">Arag</text>
<text x="638.6" y="48.7" font-size="10.6" font-weight="bold" font-style="italic" fill="#231f20" text-anchor="start" stroke="#231f20" stroke-width="0.25">Chl</text>
<text x="638.6" y="61.55" font-size="10.6" font-weight="bold" font-style="italic" fill="#231f20" text-anchor="start" stroke="#231f20" stroke-width="0.25">Ol</text>
<text x="638.6" y="74.4" font-size="10.6" font-weight="bold" font-style="italic" fill="#231f20" text-anchor="start" stroke="#231f20" stroke-width="0.25">Cpx</text>
<text x="638.6" y="87.25" font-size="10.6" font-weight="bold" font-style="italic" fill="#231f20" text-anchor="start" stroke="#231f20" stroke-width="0.25">Dol</text>
<text x="638.6" y="100.1" font-size="10.6" font-weight="bold" font-style="italic" fill="#231f20" text-anchor="start" stroke="#231f20" stroke-width="0.25">Arag</text>
<text x="638.6" y="112.95" font-size="10.6" font-weight="bold" font-style="italic" fill="#231f20" text-anchor="start" stroke="#231f20" stroke-width="0.25">Mag</text>
<text x="627.3" y="142.8" font-size="6.4" font-weight="bold" font-style="italic" fill="#231f20" text-anchor="start">Chl, Ol, Cpx,</text>
<text x="627.3" y="150.45" font-size="6.4" font-weight="bold" font-style="italic" fill="#231f20" text-anchor="start">Dol, Arag,</text>
<text x="627.3" y="158.1" font-size="6.4" font-weight="bold" font-style="italic" fill="#231f20" text-anchor="start">Mag</text>
<text x="626.6" y="233.3" font-size="6.4" font-weight="bold" font-style="italic" fill="#231f20" text-anchor="start">Chl, Ol, Cpx,</text>
<text x="626.6" y="240.7" font-size="6.4" font-weight="bold" font-style="italic" fill="#231f20" text-anchor="start">Dol, Cal,</text>
<text x="626.6" y="248.1" font-size="6.4" font-weight="bold" font-style="italic" fill="#231f20" text-anchor="start">Mag</text>
<text x="400.7" y="211.2" font-size="6.3" font-weight="bold" font-style="italic" fill="#231f20" text-anchor="start">Chl, Tr,</text>
<text x="400.7" y="218.6" font-size="6.3" font-weight="bold" font-style="italic" fill="#231f20" text-anchor="start">Dol, Atg</text>
<text x="400.7" y="226.0" font-size="6.3" font-weight="bold" font-style="italic" fill="#231f20" text-anchor="start">Hem, Mag,</text>
<text x="400.7" y="233.4" font-size="6.3" font-weight="bold" font-style="italic" fill="#231f20" text-anchor="start">Arag</text>
<text x="427.8" y="247.5" font-size="5.4" font-weight="bold" font-style="italic" fill="#231f20" text-anchor="start">Dol, Cal,</text>
<text x="427.8" y="253.8" font-size="5.4" font-weight="bold" font-style="italic" fill="#231f20" text-anchor="start">Atg,Tr, Chl</text>
<text x="427.8" y="260.1" font-size="5.4" font-weight="bold" font-style="italic" fill="#231f20" text-anchor="start">Hem, Mag</text>
<text x="476" y="232.5" font-size="4.4" font-weight="bold" font-style="italic" fill="#231f20" text-anchor="start">Dol, Cal,</text>
<text x="476" y="237.7" font-size="4.4" font-weight="bold" font-style="italic" fill="#231f20" text-anchor="start">Atg,Cpx, Chl</text>
<text x="476" y="242.9" font-size="4.4" font-weight="bold" font-style="italic" fill="#231f20" text-anchor="start">Hem, Mag</text>
<text x="400.1" y="272.4" font-size="6.4" font-weight="bold" font-style="italic" fill="#231f20" text-anchor="start">Dol, Cal,</text>
<text x="400.1" y="280.05" font-size="6.4" font-weight="bold" font-style="italic" fill="#231f20" text-anchor="start">Atg,Tr,</text>
<text x="400.1" y="287.7" font-size="6.4" font-weight="bold" font-style="italic" fill="#231f20" text-anchor="start">Hem, Mag</text>
<text x="522" y="234.6" font-size="10.6" font-weight="bold" font-style="italic" fill="#231f20" text-anchor="start" stroke="#231f20" stroke-width="0.25">Dol,Cal,Cpx,</text>
<text x="522" y="247.5" font-size="10.6" font-weight="bold" font-style="italic" fill="#231f20" text-anchor="start" stroke="#231f20" stroke-width="0.25">Atg,Chl,Mag</text>
<text x="460.3" y="286.4" font-size="10.2" font-weight="bold" font-style="italic" fill="#231f20" text-anchor="start" textLength="38.2" lengthAdjust="spacingAndGlyphs" stroke="#231f20" stroke-width="0.25">Atg,Dol</text>
<text x="460.3" y="299.9" font-size="10.2" font-weight="bold" font-style="italic" fill="#231f20" text-anchor="start" textLength="75.4" lengthAdjust="spacingAndGlyphs" stroke="#231f20" stroke-width="0.25">Cal,Tr,Chl,Mag</text>
<text x="605.7" y="74.5" font-size="11" font-weight="normal" font-style="normal" fill="#27aae1" text-anchor="start" stroke="#27aae1" stroke-width="0.3">0.94</text>
<text x="571.5" y="133.2" font-size="11" font-weight="normal" font-style="normal" fill="#27aae1" text-anchor="start" stroke="#27aae1" stroke-width="0.3">0.87</text>
<text x="624" y="86" font-size="10.9" font-weight="bold" font-style="italic" fill="#8c9e3a" text-anchor="start" transform="rotate(90 624 86)" stroke="#8c9e3a" stroke-width="0.25">Atg out</text>
<text x="524.9" y="206.0" font-size="11" font-weight="normal" font-style="normal" fill="#4a4a4c" text-anchor="start" textLength="45.5" lengthAdjust="spacingAndGlyphs" transform="rotate(-23 524.9 206.0)">aragonite</text>
<text x="529.4" y="219.2" font-size="11" font-weight="normal" font-style="normal" fill="#4a4a4c" text-anchor="start" textLength="31" lengthAdjust="spacingAndGlyphs" transform="rotate(-23 529.4 219.2)">calcite</text>
<text x="483" y="264.5" font-size="10.5" font-weight="bold" font-style="italic" fill="#2bb04a" text-anchor="start" transform="rotate(25 483 264.5)" stroke="#2bb04a" stroke-width="0.25">Cpx in</text>
<text x="522.5" y="263.5" font-size="10.5" font-weight="bold" font-style="italic" fill="#1c5a2a" text-anchor="start" transform="rotate(29.4 522.5 263.5)" stroke="#1c5a2a" stroke-width="0.25">Tr out</text>
<line x1="393.7" y1="309.80" x2="399.2" y2="309.80" stroke="#231f20" stroke-width="1"/>
<line x1="673.4" y1="309.80" x2="667.9" y2="309.80" stroke="#231f20" stroke-width="1"/>
<line x1="393.7" y1="303.72" x2="397.5" y2="303.72" stroke="#231f20" stroke-width="1"/>
<line x1="673.4" y1="303.72" x2="669.6" y2="303.72" stroke="#231f20" stroke-width="1"/>
<line x1="393.7" y1="297.64" x2="399.2" y2="297.64" stroke="#231f20" stroke-width="1"/>
<line x1="673.4" y1="297.64" x2="667.9" y2="297.64" stroke="#231f20" stroke-width="1"/>
<line x1="393.7" y1="291.56" x2="397.5" y2="291.56" stroke="#231f20" stroke-width="1"/>
<line x1="673.4" y1="291.56" x2="669.6" y2="291.56" stroke="#231f20" stroke-width="1"/>
<line x1="393.7" y1="285.48" x2="399.2" y2="285.48" stroke="#231f20" stroke-width="1"/>
<line x1="673.4" y1="285.48" x2="667.9" y2="285.48" stroke="#231f20" stroke-width="1"/>
<line x1="393.7" y1="279.40" x2="397.5" y2="279.40" stroke="#231f20" stroke-width="1"/>
<line x1="673.4" y1="279.40" x2="669.6" y2="279.40" stroke="#231f20" stroke-width="1"/>
<line x1="393.7" y1="273.32" x2="399.2" y2="273.32" stroke="#231f20" stroke-width="1"/>
<line x1="673.4" y1="273.32" x2="667.9" y2="273.32" stroke="#231f20" stroke-width="1"/>
<line x1="393.7" y1="267.24" x2="397.5" y2="267.24" stroke="#231f20" stroke-width="1"/>
<line x1="673.4" y1="267.24" x2="669.6" y2="267.24" stroke="#231f20" stroke-width="1"/>
<line x1="393.7" y1="261.16" x2="399.2" y2="261.16" stroke="#231f20" stroke-width="1"/>
<line x1="673.4" y1="261.16" x2="667.9" y2="261.16" stroke="#231f20" stroke-width="1"/>
<line x1="393.7" y1="255.08" x2="397.5" y2="255.08" stroke="#231f20" stroke-width="1"/>
<line x1="673.4" y1="255.08" x2="669.6" y2="255.08" stroke="#231f20" stroke-width="1"/>
<line x1="393.7" y1="249.00" x2="399.2" y2="249.00" stroke="#231f20" stroke-width="1"/>
<line x1="673.4" y1="249.00" x2="667.9" y2="249.00" stroke="#231f20" stroke-width="1"/>
<line x1="393.7" y1="242.92" x2="397.5" y2="242.92" stroke="#231f20" stroke-width="1"/>
<line x1="673.4" y1="242.92" x2="669.6" y2="242.92" stroke="#231f20" stroke-width="1"/>
<line x1="393.7" y1="236.83" x2="399.2" y2="236.83" stroke="#231f20" stroke-width="1"/>
<line x1="673.4" y1="236.83" x2="667.9" y2="236.83" stroke="#231f20" stroke-width="1"/>
<line x1="393.7" y1="230.75" x2="397.5" y2="230.75" stroke="#231f20" stroke-width="1"/>
<line x1="673.4" y1="230.75" x2="669.6" y2="230.75" stroke="#231f20" stroke-width="1"/>
<line x1="393.7" y1="224.67" x2="399.2" y2="224.67" stroke="#231f20" stroke-width="1"/>
<line x1="673.4" y1="224.67" x2="667.9" y2="224.67" stroke="#231f20" stroke-width="1"/>
<line x1="393.7" y1="218.59" x2="397.5" y2="218.59" stroke="#231f20" stroke-width="1"/>
<line x1="673.4" y1="218.59" x2="669.6" y2="218.59" stroke="#231f20" stroke-width="1"/>
<line x1="393.7" y1="212.51" x2="399.2" y2="212.51" stroke="#231f20" stroke-width="1"/>
<line x1="673.4" y1="212.51" x2="667.9" y2="212.51" stroke="#231f20" stroke-width="1"/>
<line x1="393.7" y1="206.43" x2="397.5" y2="206.43" stroke="#231f20" stroke-width="1"/>
<line x1="673.4" y1="206.43" x2="669.6" y2="206.43" stroke="#231f20" stroke-width="1"/>
<line x1="393.7" y1="200.35" x2="399.2" y2="200.35" stroke="#231f20" stroke-width="1"/>
<line x1="673.4" y1="200.35" x2="667.9" y2="200.35" stroke="#231f20" stroke-width="1"/>
<line x1="393.7" y1="194.27" x2="397.5" y2="194.27" stroke="#231f20" stroke-width="1"/>
<line x1="673.4" y1="194.27" x2="669.6" y2="194.27" stroke="#231f20" stroke-width="1"/>
<line x1="393.7" y1="188.19" x2="399.2" y2="188.19" stroke="#231f20" stroke-width="1"/>
<line x1="673.4" y1="188.19" x2="667.9" y2="188.19" stroke="#231f20" stroke-width="1"/>
<line x1="393.7" y1="182.11" x2="397.5" y2="182.11" stroke="#231f20" stroke-width="1"/>
<line x1="673.4" y1="182.11" x2="669.6" y2="182.11" stroke="#231f20" stroke-width="1"/>
<line x1="393.7" y1="176.03" x2="399.2" y2="176.03" stroke="#231f20" stroke-width="1"/>
<line x1="673.4" y1="176.03" x2="667.9" y2="176.03" stroke="#231f20" stroke-width="1"/>
<line x1="393.7" y1="169.95" x2="397.5" y2="169.95" stroke="#231f20" stroke-width="1"/>
<line x1="673.4" y1="169.95" x2="669.6" y2="169.95" stroke="#231f20" stroke-width="1"/>
<line x1="393.7" y1="163.87" x2="399.2" y2="163.87" stroke="#231f20" stroke-width="1"/>
<line x1="673.4" y1="163.87" x2="667.9" y2="163.87" stroke="#231f20" stroke-width="1"/>
<line x1="393.7" y1="157.79" x2="397.5" y2="157.79" stroke="#231f20" stroke-width="1"/>
<line x1="673.4" y1="157.79" x2="669.6" y2="157.79" stroke="#231f20" stroke-width="1"/>
<line x1="393.7" y1="151.71" x2="399.2" y2="151.71" stroke="#231f20" stroke-width="1"/>
<line x1="673.4" y1="151.71" x2="667.9" y2="151.71" stroke="#231f20" stroke-width="1"/>
<line x1="393.7" y1="145.63" x2="397.5" y2="145.63" stroke="#231f20" stroke-width="1"/>
<line x1="673.4" y1="145.63" x2="669.6" y2="145.63" stroke="#231f20" stroke-width="1"/>
<line x1="393.7" y1="139.55" x2="399.2" y2="139.55" stroke="#231f20" stroke-width="1"/>
<line x1="673.4" y1="139.55" x2="667.9" y2="139.55" stroke="#231f20" stroke-width="1"/>
<line x1="393.7" y1="133.47" x2="397.5" y2="133.47" stroke="#231f20" stroke-width="1"/>
<line x1="673.4" y1="133.47" x2="669.6" y2="133.47" stroke="#231f20" stroke-width="1"/>
<line x1="393.7" y1="127.39" x2="399.2" y2="127.39" stroke="#231f20" stroke-width="1"/>
<line x1="673.4" y1="127.39" x2="667.9" y2="127.39" stroke="#231f20" stroke-width="1"/>
<line x1="393.7" y1="121.31" x2="397.5" y2="121.31" stroke="#231f20" stroke-width="1"/>
<line x1="673.4" y1="121.31" x2="669.6" y2="121.31" stroke="#231f20" stroke-width="1"/>
<line x1="393.7" y1="115.23" x2="399.2" y2="115.23" stroke="#231f20" stroke-width="1"/>
<line x1="673.4" y1="115.23" x2="667.9" y2="115.23" stroke="#231f20" stroke-width="1"/>
<line x1="393.7" y1="109.15" x2="397.5" y2="109.15" stroke="#231f20" stroke-width="1"/>
<line x1="673.4" y1="109.15" x2="669.6" y2="109.15" stroke="#231f20" stroke-width="1"/>
<line x1="393.7" y1="103.07" x2="399.2" y2="103.07" stroke="#231f20" stroke-width="1"/>
<line x1="673.4" y1="103.07" x2="667.9" y2="103.07" stroke="#231f20" stroke-width="1"/>
<line x1="393.7" y1="96.98" x2="397.5" y2="96.98" stroke="#231f20" stroke-width="1"/>
<line x1="673.4" y1="96.98" x2="669.6" y2="96.98" stroke="#231f20" stroke-width="1"/>
<line x1="393.7" y1="90.90" x2="399.2" y2="90.90" stroke="#231f20" stroke-width="1"/>
<line x1="673.4" y1="90.90" x2="667.9" y2="90.90" stroke="#231f20" stroke-width="1"/>
<line x1="393.7" y1="84.82" x2="397.5" y2="84.82" stroke="#231f20" stroke-width="1"/>
<line x1="673.4" y1="84.82" x2="669.6" y2="84.82" stroke="#231f20" stroke-width="1"/>
<line x1="393.7" y1="78.74" x2="399.2" y2="78.74" stroke="#231f20" stroke-width="1"/>
<line x1="673.4" y1="78.74" x2="667.9" y2="78.74" stroke="#231f20" stroke-width="1"/>
<line x1="393.7" y1="72.66" x2="397.5" y2="72.66" stroke="#231f20" stroke-width="1"/>
<line x1="673.4" y1="72.66" x2="669.6" y2="72.66" stroke="#231f20" stroke-width="1"/>
<line x1="393.7" y1="66.58" x2="399.2" y2="66.58" stroke="#231f20" stroke-width="1"/>
<line x1="673.4" y1="66.58" x2="667.9" y2="66.58" stroke="#231f20" stroke-width="1"/>
<line x1="393.7" y1="60.50" x2="397.5" y2="60.50" stroke="#231f20" stroke-width="1"/>
<line x1="673.4" y1="60.50" x2="669.6" y2="60.50" stroke="#231f20" stroke-width="1"/>
<line x1="393.7" y1="54.42" x2="399.2" y2="54.42" stroke="#231f20" stroke-width="1"/>
<line x1="673.4" y1="54.42" x2="667.9" y2="54.42" stroke="#231f20" stroke-width="1"/>
<line x1="393.7" y1="48.34" x2="397.5" y2="48.34" stroke="#231f20" stroke-width="1"/>
<line x1="673.4" y1="48.34" x2="669.6" y2="48.34" stroke="#231f20" stroke-width="1"/>
<line x1="393.7" y1="42.26" x2="399.2" y2="42.26" stroke="#231f20" stroke-width="1"/>
<line x1="673.4" y1="42.26" x2="667.9" y2="42.26" stroke="#231f20" stroke-width="1"/>
<line x1="393.7" y1="36.18" x2="397.5" y2="36.18" stroke="#231f20" stroke-width="1"/>
<line x1="673.4" y1="36.18" x2="669.6" y2="36.18" stroke="#231f20" stroke-width="1"/>
<line x1="393.7" y1="30.10" x2="399.2" y2="30.10" stroke="#231f20" stroke-width="1"/>
<line x1="673.4" y1="30.10" x2="667.9" y2="30.10" stroke="#231f20" stroke-width="1"/>
<line x1="421.67" y1="309.8" x2="421.67" y2="304.8" stroke="#231f20" stroke-width="1"/>
<line x1="421.67" y1="30.1" x2="421.67" y2="35.1" stroke="#231f20" stroke-width="1"/>
<line x1="449.64" y1="309.8" x2="449.64" y2="304.8" stroke="#231f20" stroke-width="1"/>
<line x1="449.64" y1="30.1" x2="449.64" y2="35.1" stroke="#231f20" stroke-width="1"/>
<line x1="477.61" y1="309.8" x2="477.61" y2="304.8" stroke="#231f20" stroke-width="1"/>
<line x1="477.61" y1="30.1" x2="477.61" y2="35.1" stroke="#231f20" stroke-width="1"/>
<line x1="505.58" y1="309.8" x2="505.58" y2="304.8" stroke="#231f20" stroke-width="1"/>
<line x1="505.58" y1="30.1" x2="505.58" y2="35.1" stroke="#231f20" stroke-width="1"/>
<line x1="533.55" y1="309.8" x2="533.55" y2="304.8" stroke="#231f20" stroke-width="1"/>
<line x1="533.55" y1="30.1" x2="533.55" y2="35.1" stroke="#231f20" stroke-width="1"/>
<line x1="561.52" y1="309.8" x2="561.52" y2="304.8" stroke="#231f20" stroke-width="1"/>
<line x1="561.52" y1="30.1" x2="561.52" y2="35.1" stroke="#231f20" stroke-width="1"/>
<line x1="589.49" y1="309.8" x2="589.49" y2="304.8" stroke="#231f20" stroke-width="1"/>
<line x1="589.49" y1="30.1" x2="589.49" y2="35.1" stroke="#231f20" stroke-width="1"/>
<line x1="617.46" y1="309.8" x2="617.46" y2="304.8" stroke="#231f20" stroke-width="1"/>
<line x1="617.46" y1="30.1" x2="617.46" y2="35.1" stroke="#231f20" stroke-width="1"/>
<line x1="645.43" y1="309.8" x2="645.43" y2="304.8" stroke="#231f20" stroke-width="1"/>
<line x1="645.43" y1="30.1" x2="645.43" y2="35.1" stroke="#231f20" stroke-width="1"/>
<rect x="393.7" y="30.1" width="279.7" height="279.7" fill="none" stroke="#231f20" stroke-width="1.3"/>
<text x="387.7" y="299.24" font-size="12" font-weight="normal" font-style="normal" fill="#231f20" text-anchor="end">6</text>
<text x="387.7" y="274.92" font-size="12" font-weight="normal" font-style="normal" fill="#231f20" text-anchor="end">8</text>
<text x="389.2" y="250.6" font-size="12" font-weight="normal" font-style="normal" fill="#231f20" text-anchor="end">10</text>
<text x="389.2" y="226.27" font-size="12" font-weight="normal" font-style="normal" fill="#231f20" text-anchor="end">12</text>
<text x="389.2" y="201.95" font-size="12" font-weight="normal" font-style="normal" fill="#231f20" text-anchor="end">14</text>
<text x="389.2" y="177.63" font-size="12" font-weight="normal" font-style="normal" fill="#231f20" text-anchor="end">16</text>
<text x="389.2" y="153.31" font-size="12" font-weight="normal" font-style="normal" fill="#231f20" text-anchor="end">18</text>
<text x="389.2" y="128.99" font-size="12" font-weight="normal" font-style="normal" fill="#231f20" text-anchor="end">20</text>
<text x="389.2" y="104.67" font-size="12" font-weight="normal" font-style="normal" fill="#231f20" text-anchor="end">22</text>
<text x="389.2" y="80.34" font-size="12" font-weight="normal" font-style="normal" fill="#231f20" text-anchor="end">24</text>
<text x="389.2" y="56.02" font-size="12" font-weight="normal" font-style="normal" fill="#231f20" text-anchor="end">26</text>
<text x="389.2" y="31.7" font-size="12" font-weight="normal" font-style="normal" fill="#231f20" text-anchor="end">28</text>
<text x="449.64" y="323.0" font-size="12" font-weight="normal" font-style="normal" fill="#231f20" text-anchor="middle">450</text>
<text x="505.58" y="323.0" font-size="12" font-weight="normal" font-style="normal" fill="#231f20" text-anchor="middle">500</text>
<text x="561.52" y="323.0" font-size="12" font-weight="normal" font-style="normal" fill="#231f20" text-anchor="middle">550</text>
<text x="617.46" y="323.0" font-size="12" font-weight="normal" font-style="normal" fill="#231f20" text-anchor="middle">600</text>
<text x="673.4" y="323.0" font-size="12" font-weight="normal" font-style="normal" fill="#231f20" text-anchor="middle">650</text>
<rect x="537.5" y="29.9" width="33.700000000000045" height="95.6" fill="#ffffff" stroke="#231f20" stroke-width="1.1"/>
<text x="543" y="42.8" font-size="10.8" font-weight="normal" font-style="italic" fill="#3a3a3a" text-anchor="start">Chl</text>
<text x="543" y="55.6" font-size="10.8" font-weight="normal" font-style="italic" fill="#3a3a3a" text-anchor="start">Cpx</text>
<text x="543" y="68.4" font-size="10.8" font-weight="normal" font-style="italic" fill="#3a3a3a" text-anchor="start">Dol</text>
<text x="543" y="81.2" font-size="10.8" font-weight="normal" font-style="italic" fill="#3a3a3a" text-anchor="start">Atg</text>
<text x="543" y="94.0" font-size="10.8" font-weight="normal" font-style="italic" fill="#3a3a3a" text-anchor="start">Ol</text>
<text x="543" y="106.8" font-size="10.8" font-weight="normal" font-style="italic" fill="#3a3a3a" text-anchor="start">Mag</text>
<text x="543" y="119.6" font-size="10.8" font-weight="normal" font-style="italic" fill="#3a3a3a" text-anchor="start">Arag</text>
<text x="363.7" y="12.3" font-size="16.5" font-weight="bold" font-style="normal" fill="#231f20" text-anchor="start" stroke="#231f20" stroke-width="0.25">B</text>
<text x="393.2" y="20.3" font-size="12.5" font-weight="normal" font-style="normal" fill="#231f20" text-anchor="start" textLength="184.6" lengthAdjust="spacingAndGlyphs">Bulk 2 (56% Atg, 43% Cal, 1% Mag)</text>
<text x="522.3" y="335.3" font-size="14.5" font-weight="normal" font-style="normal" fill="#231f20" text-anchor="start" textLength="35.6" lengthAdjust="spacingAndGlyphs">T(°C)</text>
<text x="366.6" y="178.5" font-size="12.5" font-weight="normal" font-style="normal" fill="#231f20" text-anchor="start" textLength="45.2" lengthAdjust="spacingAndGlyphs" transform="rotate(-90 366.6 178.5)">P(kbar)</text>
</svg>
</body></html>
